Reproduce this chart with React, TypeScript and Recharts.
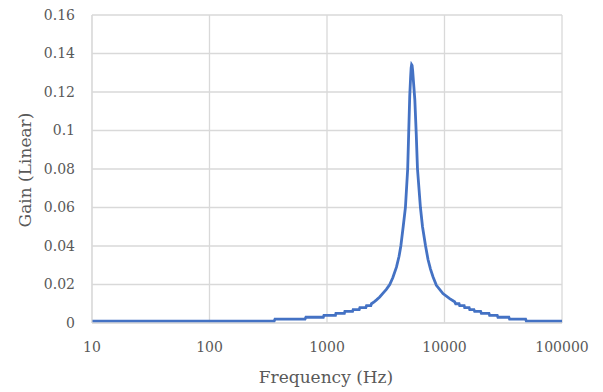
import React from 'react';
import { LineChart, Line, XAxis, YAxis, CartesianGrid, Label } from 'recharts';

// frequency (Hz) and gain; pairs of points make the rounding steps
const freqHz = [
  10, 355, 361, 650, 662, 930, 942, 1180, 1191, 1405, 1420, 1650, 1670, 1880, 1905,
  2140, 2170, 2360, 2390, 2520, 2640, 2810, 3000, 3200, 3420, 3630, 3900, 4100, 4250,
  4450, 4650, 4860, 5060, 5150, 5200, 5250, 5300, 5360, 5450, 5590, 5750, 5890, 6240, 6500, 6900,
  7240, 7600, 7980, 8530, 9700, 11070, 12200, 12450, 13300, 13470, 14700, 14850, 16200,
  16400, 17800, 18060, 20300, 20600, 23900, 24200, 28100, 28500, 35300, 35800, 49000,
  49700, 100000,
];
const gain = [
  0.001, 0.001, 0.002, 0.002, 0.003, 0.003, 0.004, 0.004, 0.005, 0.005, 0.006, 0.006, 0.007, 0.007, 0.008,
  0.008, 0.009, 0.009, 0.010, 0.011, 0.012, 0.0135, 0.0155, 0.0175, 0.020, 0.0235, 0.029, 0.0345, 0.040,
  0.050, 0.060, 0.080, 0.118, 0.128, 0.1325, 0.1342, 0.1338, 0.131, 0.125, 0.116, 0.098, 0.080, 0.060, 0.050, 0.040,
  0.033, 0.028, 0.024, 0.0196, 0.0153, 0.0127, 0.011, 0.010, 0.010, 0.009, 0.009, 0.008, 0.008,
  0.007, 0.007, 0.006, 0.006, 0.005, 0.005, 0.004, 0.004, 0.003, 0.003, 0.002, 0.002,
  0.001, 0.001,
];
const xTicks = [10, 100, 1000, 10000, 100000];
const yTicks = [0, 0.02, 0.04, 0.06, 0.08, 0.1, 0.12, 0.14, 0.16];
const yTickLabels = ['0', '0.02', '0.04', '0.06', '0.08', '0.1', '0.12', '0.14', '0.16'];

const data = freqHz.map((f, i) => ({ freq: f, gain: gain[i] }));

const tickFont = { fontFamily: '"DejaVu Serif", serif', fontSize: 14, fill: '#595959' };
const titleFont = { fontFamily: '"DejaVu Serif", serif', fontSize: 17, fill: '#595959' };

export default function App() {
  return (
    <div style={{ position: 'absolute', left: 0, top: 0, background: '#fff' }}>
      <LineChart width={603} height={392} data={data} margin={{ top: 15, right: 41, left: 0, bottom: 0 }}>
        <CartesianGrid stroke="#d9d9d9" strokeWidth={1.3} />
        <XAxis
          dataKey="freq"
          type="number"
          scale="log"
          domain={[10, 100000]}
          ticks={xTicks}
          allowDataOverflow
          height={69}
          stroke="#d9d9d9"
          tickLine={false}
          tickSize={0}
          tickMargin={19}
          tick={tickFont}
        >
          <Label
            content={() => (
              <text x={326} y={382.5} textAnchor="middle" style={titleFont}>
                Frequency (Hz)
              </text>
            )}
          />
        </XAxis>
        <YAxis
          type="number"
          domain={[0, 0.16]}
          ticks={yTicks}
          width={92}
          stroke="#d9d9d9"
          tickLine={false}
          tickSize={0}
          tickMargin={17}
          tick={tickFont}
          tickFormatter={(v: number) => yTickLabels[yTicks.indexOf(v)] ?? String(v)}
        >
          <Label
            content={() => (
              <text x={31} y={170} transform="rotate(-90 31 170)" textAnchor="middle" style={titleFont}>
                Gain (Linear)
              </text>
            )}
          />
        </YAxis>
        <Line
          dataKey="gain"
          type="linear"
          stroke="#4472c4"
          strokeWidth={2.8}
          dot={false}
          isAnimationActive={false}
        />
      </LineChart>
    </div>
  );
}
